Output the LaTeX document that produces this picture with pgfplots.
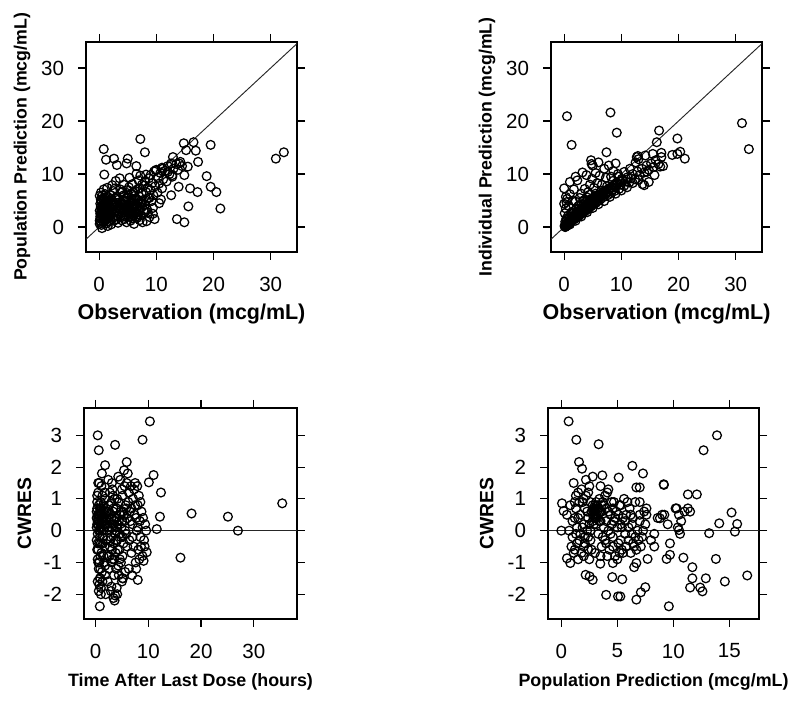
\documentclass[border=0pt]{standalone}
\usepackage{pgfplots}
\pgfplotsset{compat=1.18}
\usepackage{fontspec}
\setmainfont{Liberation Sans}

% 1 px of the reference = 0.75pt
\pgfplotsset{
  diag/.style={
    scale only axis,
    anchor=south west,
    axis line style={line width=0.9pt},
    tick align=outside,
    major tick length=6pt,
    every tick/.style={black, line width=0.9pt},
    tick label style={font=\fontsize{15.4}{16}\selectfont},
    xticklabel style={yshift=-9pt},
    yticklabel style={xshift=-7pt},
    /pgf/number format/assume math mode=true,
    clip=true,
  },
  pts/.style={only marks, mark=o, mark size=3.3pt, black, mark options={line width=0.95pt}},
  refl/.style={no marks, black!85, line width=0.7pt},
}

\begin{document}
\begin{tikzpicture}
\path[use as bounding box, fill=white] (0,0) rectangle (600pt,527.25pt);

% ---------------- top left: PRED vs DV
\begin{axis}[diag,
  at={(64.5pt,338.25pt)}, width=158.25pt, height=157.5pt,
  xmin=-2.3, xmax=34.6, ymin=-4.7, ymax=34.9,
  xtick={0,10,20,30}, ytick={0,10,20,30},
  xlabel={Observation (mcg/mL)},
  ylabel={Population Prediction (mcg/mL)},
  xlabel style={at={(axis description cs:0.5,-0.295)}, anchor=center, font=\bfseries\fontsize{16.1}{17}\selectfont},
  ylabel style={at={(axis description cs:-0.303,0.5)}, anchor=center, font=\bfseries\fontsize{13.3}{14}\selectfont},
]
\addplot[refl] coordinates {(-10,-10) (40,40)};
\addplot[pts] coordinates {
(0.1,1.2)(0.2,2.5)(0.3,3.8)(0.1,5.9)(0.4,0.4)(0.5,1.8)(0.6,3.1)(0.2,4.4)(0.7,2.2)(0.8,0.9)
(0.3,6.5)(0.9,4.9)(1.0,2.8)(1.1,1.5)(0.4,3.3)(1.2,3.6)(1.3,0.7)(0.6,5.3)(1.4,4.2)(1.5,2.1)
(0.8,7.1)(1.6,5.6)(1.7,1.1)(1.8,3.0)(0.5,-0.2)(1.9,4.6)(2.0,2.4)(0.9,3.9)(1.1,6.2)(2.1,0.5)
(0.2,2.0)(1.3,2.6)(1.6,3.4)(0.7,1.0)(2.2,5.1)(2.3,3.3)(1.0,4.1)(1.4,7.4)(0.3,0.8)(2.4,1.7)
(2.5,6.8)(1.2,5.0)(0.1,3.1)(1.9,2.0)(2.6,4.0)(0.6,2.7)(1.5,0.2)(2.0,6.0)(2.7,2.9)(0.4,4.9)
(3.0,1.5)(3.2,3.8)(3.4,5.2)(3.5,2.6)(3.7,7.1)(3.9,4.3)(4.0,1.9)(4.2,3.1)(4.3,6.0)(4.5,2.4)
(4.6,4.8)(4.8,0.9)(4.9,3.5)(5.0,5.6)(5.1,2.0)(5.2,7.5)(5.3,4.1)(5.4,2.9)(5.5,1.2)(5.6,6.3)
(5.7,3.6)(5.8,5.0)(5.9,2.3)(6.0,4.5)(6.1,0.6)(6.2,3.2)(6.3,6.8)(6.4,2.7)(6.5,5.3)(6.6,1.7)
(6.7,4.0)(6.8,7.2)(6.9,3.0)(7.0,5.8)(7.1,1.3)(7.2,4.6)(7.3,2.2)(7.4,6.4)(7.5,3.8)(7.6,0.9)
(7.7,5.1)(7.8,7.8)(7.9,2.8)(8.0,4.2)(8.2,6.6)(8.4,3.3)(8.6,5.5)(8.8,1.9)(9.0,7.0)(9.2,4.9)
(9.4,2.5)(3.3,0.8)(3.8,6.5)(4.4,5.1)(4.1,2.7)(2.9,4.6)(3.6,3.3)(5.5,4.8)(6.0,3.7)(4.7,3.9)
(5.2,2.6)(6.5,3.5)(4.0,4.4)(3.1,2.2)(5.8,1.6)(7.0,3.4)(4.9,6.4)(2.8,7.3)(6.2,5.9)(3.5,4.0)
(0.2,1.6)(0.4,2.9)(0.6,4.1)(0.8,1.4)(1.0,3.3)(1.2,2.1)(1.4,5.3)(1.6,2.5)(1.8,4.0)(2.0,1.3)
(0.3,5.2)(0.5,2.3)(0.7,3.6)(0.9,2.0)(1.1,4.6)(1.3,3.0)(1.5,1.6)(1.7,4.9)(1.9,3.6)(2.2,2.8)
(2.4,4.4)(2.6,1.2)(0.1,0.6)(0.6,6.0)(1.0,5.5)(2.8,5.5)(3.0,3.2)(3.3,2.0)(3.6,4.7)(3.9,1.3)
(4.2,4.3)(4.5,3.2)(4.8,5.4)(5.1,3.0)(5.4,4.5)(5.7,2.5)(6.0,5.2)(6.3,1.9)(6.6,3.8)(6.9,5.1)
(4.0,3.6)(4.6,2.0)(5.3,3.4)(5.9,4.1)(3.4,3.6)(4.4,1.5)(5.0,4.0)(5.6,1.9)(6.2,4.3)(6.8,2.4)
(7.4,4.5)(7.8,3.2)(8.2,5.0)(8.5,2.8)(3.1,5.8)(4.1,6.7)(5.0,7.0)(6.0,6.6)(7.1,7.3)(2.3,7.9)
(7.5,8.0)(8.0,8.6)(8.5,7.4)(8.7,9.2)(9.0,9.8)(9.3,8.3)(9.6,10.5)(9.8,7.7)(10.0,10.8)(10.3,9.3)
(10.5,8.2)(10.7,10.2)(11.0,11.2)(11.2,9.0)(11.5,10.6)(11.8,8.6)(12.0,11.5)(12.3,10.0)(12.6,12.0)(12.8,9.5)
(13.0,11.0)(13.5,11.9)(13.8,10.8)(14.2,12.3)(14.5,11.5)(10.2,6.5)(11.0,7.3)(9.5,6.0)(8.8,5.5)(10.8,5.2)
(9.7,1.5)(8.3,1.1)(7.2,9.7)(8.2,9.9)(6.9,8.8)(6.5,10.0)(5.8,8.1)(5.3,9.3)(4.3,8.0)(3.6,9.2)
(2.9,8.7)(9.4,3.6)(10.5,4.5)
(7.2,16.6)(0.8,14.7)(8.0,14.1)(14.8,15.8)(16.5,16.0)(19.5,15.5)(15.2,14.5)(16.9,14.4)(30.9,12.9)(32.3,14.1)
(17.3,12.3)(1.2,12.7)(2.6,12.9)(3.1,11.7)(5.0,12.9)(4.8,12.0)(6.5,11.5)(0.9,9.9)(18.8,9.6)(19.5,7.6)
(20.5,6.6)(15.9,7.3)(17.2,6.6)(21.2,3.5)(15.6,3.9)(13.6,1.5)(14.9,0.9)(13.9,7.6)(12.6,6.0)(12.9,13.2)
(11.1,11.0)(9.9,10.7)(12.0,10.4)(12.8,9.8)(14.9,9.8)(15.5,11.4)(14.0,12.0)
};
\end{axis}

% ---------------- top right: IPRED vs DV
\begin{axis}[diag,
  at={(413.25pt,338.25pt)}, width=158.25pt, height=157.5pt,
  xmin=-2.3, xmax=34.6, ymin=-4.7, ymax=34.9,
  xtick={0,10,20,30}, ytick={0,10,20,30},
  xlabel={Observation (mcg/mL)},
  ylabel={Individual Prediction (mcg/mL)},
  xlabel style={at={(axis description cs:0.5,-0.295)}, anchor=center, font=\bfseries\fontsize{16.1}{17}\selectfont},
  ylabel style={at={(axis description cs:-0.303,0.5)}, anchor=center, font=\bfseries\fontsize{13.3}{14}\selectfont},
]
\addplot[refl] coordinates {(-10,-10) (40,40)};
\addplot[pts] coordinates {
(0.1,0.1)(0.2,0.4)(0.3,0.2)(0.4,0.7)(0.5,0.3)(0.6,0.9)(0.2,0.0)(0.8,0.6)(0.9,1.1)(1.0,0.8)
(1.1,1.3)(1.2,1.0)(1.3,1.6)(1.4,1.2)(1.5,1.8)(1.6,1.4)(1.7,2.1)(1.8,1.5)(1.9,2.3)(2.0,1.7)
(2.1,2.0)(2.2,2.6)(2.3,1.9)(2.4,2.4)(2.5,2.9)(2.6,2.1)(2.7,2.6)(2.8,3.2)(2.9,2.4)(3.0,2.8)
(3.1,3.4)(3.2,2.6)(3.3,3.0)(3.4,3.7)(3.5,2.9)(3.6,3.3)(3.7,4.0)(3.8,3.1)(3.9,3.6)(4.0,4.3)
(4.1,3.4)(4.2,3.9)(4.3,4.6)(4.4,3.6)(4.5,4.1)(4.6,4.9)(4.7,3.9)(4.8,4.4)(4.9,5.1)(5.0,4.2)
(5.1,4.7)(5.2,5.4)(5.3,4.4)(5.4,5.0)(5.5,5.7)(5.6,4.6)(5.7,5.2)(5.8,6.0)(5.9,4.9)(6.0,5.5)
(6.2,6.2)(6.4,5.3)(6.6,5.9)(6.8,6.6)(7.0,5.7)(7.2,6.3)(7.4,7.0)(7.6,6.0)(7.8,6.7)(8.0,7.4)
(8.2,6.4)(8.4,7.0)(8.6,7.8)(8.8,6.8)(9.0,7.5)(9.3,8.1)(9.6,7.2)(9.9,8.0)(10.2,8.8)(10.5,7.8)
(10.8,8.6)(11.1,9.4)(11.4,8.4)(11.7,9.2)(12.0,10.0)(12.4,9.0)(12.8,10.5)(13.2,9.8)(13.6,11.0)(14.0,10.3)
(14.4,11.6)(14.8,10.8)(15.2,12.0)(15.6,11.3)(16.0,12.6)(16.5,11.9)(17.0,13.2)(13.0,12.8)(12.5,12.2)(14.2,13.5)
(15.5,13.8)(16.2,16.0)(17.0,14.0)(16.8,11.4)(15.8,9.8)(14.0,7.9)(12.9,13.4)(11.5,11.0)(10.5,10.4)(9.5,9.5)
(8.5,8.7)(7.5,7.7)(6.5,6.8)(5.5,6.3)(4.5,5.2)(3.5,4.5)(2.5,3.4)(1.5,2.5)(0.5,1.4)
(0.1,0.3)(0.3,0.5)(0.4,0.2)(0.6,0.6)(0.7,0.4)(0.9,0.8)(1.1,0.9)(1.2,1.3)(1.4,1.5)(1.6,1.7)
(1.8,1.9)(2.0,2.1)(2.2,2.2)(2.4,2.7)(2.6,2.5)(2.8,2.8)(3.0,3.1)(3.2,3.3)(3.4,3.2)(3.6,3.7)
(3.8,3.6)(4.0,3.9)(4.2,4.3)(4.4,4.1)(4.6,4.5)(4.8,4.8)(5.0,4.7)(5.2,5.0)(5.4,5.3)(5.6,5.2)
(5.8,5.6)(6.0,6.0)(6.3,5.7)(6.7,6.2)(7.1,6.8)(7.5,6.5)(7.9,7.1)(8.3,7.5)(8.8,7.9)(9.2,8.4)
(9.7,8.6)(10.1,9.1)(0.2,1.0)(0.4,1.6)(0.7,2.2)(1.0,1.9)(1.3,2.8)(1.7,3.0)(2.1,3.5)(2.5,4.0)
(3.0,4.2)(3.5,5.1)(4.0,5.6)(4.5,6.1)(0.1,2.6)(0.4,4.7)
(0.3,3.5)(0.5,5.3)(0.8,4.0)(1.0,6.2)(1.5,5.0)(2.0,4.8)(2.3,8.8)(2.7,5.5)(3.0,6.3)(3.3,4.9)
(3.6,7.2)(3.9,9.8)(4.2,6.6)(4.5,8.0)(4.9,9.1)(5.2,7.4)(5.5,10.2)(5.8,8.3)(6.2,9.7)(6.6,8.0)
(7.0,11.0)(7.3,9.3)(7.8,11.6)(8.2,9.5)(8.6,10.6)(9.0,12.0)(9.4,10.0)(6.0,12.2)(5.0,11.6)(2.0,9.5)
(1.7,7.1)(1.0,0.5)(2.0,1.2)(3.0,2.0)(4.0,2.8)(5.0,3.6)(6.0,4.3)(7.0,4.9)(8.0,5.7)(9.0,6.3)
(10.0,6.9)(11.0,7.5)(12.0,8.3)(13.0,8.9)
(0.5,20.9)(8.1,21.6)(9.2,17.8)(1.3,15.5)(31.1,19.6)(32.3,14.7)(16.6,18.2)(19.8,16.7)(7.4,14.1)(18.9,13.6)
(20.3,14.2)(21.1,12.9)(19.8,13.8)(17.3,11.5)(4.7,12.6)(4.8,11.9)(3.2,10.3)(1.0,8.5)(0.0,7.3)(0.3,5.7)
(0.0,4.4)(13.7,8.1)(14.8,8.5)(14.5,10.4)(12.7,13.2)
};
\end{axis}

% ---------------- bottom left: CWRES vs TAD
\begin{axis}[diag,
  at={(63pt,63pt)}, width=159.75pt, height=158.25pt,
  xmin=-2.2, xmax=38.2, ymin=-2.78, ymax=3.86,
  xtick={0,10,20,30}, ytick={-2,-1,0,1,2,3},
  xlabel={Time After Last Dose (hours)},
  ylabel={CWRES},
  xlabel style={at={(axis description cs:0.5,-0.3)}, anchor=center, font=\bfseries\fontsize{13.4}{14}\selectfont},
  ylabel style={at={(axis description cs:-0.28,0.5)}, anchor=center, font=\bfseries\fontsize{14.5}{15}\selectfont},
]
\addplot[refl] coordinates {(-10,0) (50,0)};
\addplot[pts] coordinates {
(0.2,0.6)(0.3,0.2)(0.4,-0.1)(0.5,0.5)(0.3,0.9)(0.6,0.3)(0.7,-0.4)(0.8,0.7)(0.2,-0.3)(0.9,0.1)
(1.0,0.5)(1.1,-0.7)(0.5,1.2)(1.2,0.3)(1.3,-0.2)(0.4,-0.9)(1.4,0.8)(1.5,0.0)(0.6,-1.2)(1.6,0.4)
(1.7,-0.5)(0.8,-1.5)(1.8,1.0)(0.3,0.4)(1.9,0.2)(0.7,1.5)(2.0,-0.3)(1.0,-1.8)(1.1,1.4)(1.2,-1.3)
(0.9,-0.8)(1.5,0.6)(1.3,-1.6)(0.5,-0.6)(1.6,-1.0)(0.6,-1.9)(1.7,1.2)(2.1,0.6)(1.4,-0.4)(1.0,0.9)
(0.8,0.0)(0.4,0.3)(2.2,-0.8)(1.8,-1.4)(1.9,-2.0)(0.7,-1.0)(2.3,0.1)(0.9,-1.5)(1.1,0.2)
(0.2,0.4)(0.3,0.7)(0.4,0.5)(0.5,0.2)(0.6,0.8)(0.7,0.5)(0.8,0.3)(0.9,0.6)(1.0,0.2)(1.1,0.7)
(1.2,0.5)(1.3,0.4)(1.4,0.2)(0.2,0.1)(0.4,-0.4)(0.6,0.0)(0.8,-0.2)(1.0,-0.4)(1.2,0.0)(1.5,0.3)
(1.6,0.7)(1.8,0.5)(2.0,0.4)(2.2,0.2)(2.4,0.6)(0.3,-0.6)(0.5,-1.0)(0.9,-1.2)(0.4,-1.6)(0.7,-1.7)
(0.3,1.1)(0.5,1.5)(1.3,1.1)(2.6,0.0)(2.8,-0.3)(3.0,0.4)(3.2,0.2)(3.4,0.7)(3.6,0.4)(3.8,-0.3)
(4.0,0.1)(4.2,-0.6)(4.4,0.3)(4.6,-0.1)(4.8,0.6)(5.0,0.3)(5.2,-0.2)(5.4,0.5)(5.6,0.0)(5.8,0.7)
(6.0,-0.5)(3.1,-0.6)(3.5,-0.9)(3.9,-1.2)(4.4,-1.4)(4.8,-1.0)(2.6,-0.8)(6.6,0.3)(7.0,-0.2)(7.5,0.8)
(8.0,0.1)(8.5,0.9)(6.8,0.7)(7.7,0.4)(8.6,-0.5)(3.2,1.3)(4.1,1.0)(5.1,1.1)(6.3,1.2)(7.9,1.4)
(2.4,1.6)(1.2,1.8)(1.5,-0.8)(1.8,-1.1)(2.3,-1.6)(1.0,-2.0)
(2.5,0.8)(2.6,0.3)(2.7,-0.5)(2.8,0.5)(2.9,-0.2)(3.0,0.9)(3.1,0.1)(3.2,-0.9)(3.3,0.6)(3.4,-0.4)
(3.5,0.3)(3.6,1.0)(3.7,-0.1)(3.8,-0.7)(3.9,0.4)(4.0,0.7)(4.1,-0.3)(4.2,0.2)(4.3,-1.1)(4.4,0.9)
(4.5,-0.6)(4.6,0.5)(4.7,1.6)(4.8,-0.2)(4.9,0.1)(5.0,1.3)(5.1,-0.8)(5.2,0.6)(5.3,-0.4)(5.4,1.9)
(5.5,0.3)(5.6,-1.3)(5.7,0.8)(5.8,-0.1)(5.9,1.5)(6.0,0.4)(2.5,-1.2)(3.0,-1.0)(3.5,-1.4)(4.0,-1.8)
(2.7,1.2)(3.3,1.1)(4.3,1.7)(3.8,0.0)(4.6,-0.9)(5.0,-1.6)(5.5,1.4)(2.9,-1.9)(3.6,-2.2)(4.1,-2.0)
(5.2,-1.5)(3.1,1.5)
(6.2,0.9)(6.4,-0.3)(6.5,0.6)(6.7,1.4)(6.8,-0.7)(7.0,0.2)(7.1,1.0)(7.2,-0.5)(7.4,0.5)(7.5,1.5)
(7.6,-1.0)(7.8,0.0)(8.0,0.8)(8.1,-0.6)(8.2,1.1)(8.4,0.3)(8.5,-0.2)(8.7,0.6)(8.9,-0.8)(9.0,0.4)
(9.2,-0.3)(9.4,0.2)(9.6,0.0)(6.3,-1.2)(6.9,-1.4)(7.7,-1.2)(8.3,-0.9)(9.3,-0.5)(6.1,1.8)(7.3,1.3)
(10.3,3.44)(0.4,3.0)(0.6,2.53)(3.7,2.7)(8.9,2.86)(1.8,2.06)(5.9,2.16)(11.0,1.75)(10.1,1.52)(12.4,1.2)
(35.4,0.86)(18.2,0.54)(25.1,0.44)(27.0,0.0)(16.1,-0.85)(12.2,0.44)(11.6,0.05)(0.8,-2.38)(3.4,-2.12)(3.7,-2.04)
(3.0,-1.76)(8.0,-1.55)(5.1,-1.5)(9.1,-0.95)(9.7,-0.68)
};
\end{axis}

% ---------------- bottom right: CWRES vs PRED
\begin{axis}[diag,
  at={(411pt,63pt)}, width=158.25pt, height=158.25pt,
  xmin=-1.19, xmax=17.65, ymin=-2.78, ymax=3.86,
  xtick={0,5,10,15}, ytick={-2,-1,0,1,2,3},
  xlabel={Population Prediction (mcg/mL)},
  ylabel={CWRES},
  xlabel style={at={(axis description cs:0.5,-0.3)}, anchor=center, font=\bfseries\fontsize{13.4}{14}\selectfont},
  ylabel style={at={(axis description cs:-0.29,0.5)}, anchor=center, font=\bfseries\fontsize{14.5}{15}\selectfont},
]
\addplot[refl] coordinates {(-10,0) (50,0)};
\addplot[pts] coordinates {
(0.5,0.5)(0.7,0.0)(0.9,-0.5)(1.0,0.3)(1.1,1.5)(1.2,-0.6)(1.3,0.7)(1.4,0.1)(1.5,1.2)(1.6,-0.3)
(1.7,0.5)(1.8,-0.7)(1.9,0.9)(2.0,0.2)(2.1,-0.4)(2.2,1.1)(2.3,0.6)(2.4,-0.2)(2.5,1.4)(2.6,0.0)
(2.7,-0.6)(2.8,0.8)(2.9,0.4)(3.0,0.6)(3.0,0.5)(3.1,0.7)(3.1,0.4)(3.2,0.6)(3.2,0.8)(3.3,0.5)
(3.3,-0.1)(3.4,1.0)(3.5,0.3)(3.6,-0.5)(3.7,0.9)(3.8,0.1)(3.9,-0.3)(4.0,0.7)(4.1,1.2)(4.2,0.0)
(4.3,-0.6)(4.4,0.5)(4.5,0.9)(4.6,-0.2)(4.7,0.3)(4.8,-0.8)(4.9,0.6)(5.0,0.1)(5.1,-0.4)(5.2,0.8)
(5.3,0.2)(5.4,-0.6)(5.5,0.4)(5.6,1.0)(5.7,-0.1)(5.8,0.5)(6.0,-0.3)(6.1,0.7)(6.3,0.2)(6.5,-0.5)
(6.6,0.9)(6.8,0.0)(7.0,0.5)(7.2,-0.2)(7.4,0.6)(2.0,-0.8)(2.5,-0.9)(1.5,-0.9)(3.0,-0.7)(3.5,-0.8)
(4.0,-0.4)(2.2,1.6)(1.8,1.3)(2.8,1.7)(3.5,1.4)(4.2,1.3)(1.2,0.9)(2.6,0.9)(3.4,0.3)(2.9,0.6)
(3.6,0.6)(2.4,0.4)(3.1,0.2)(3.8,0.8)(4.4,-0.1)(5.0,-0.9)(5.5,-0.7)(6.2,-0.7)(6.7,-0.6)(7.0,0.3)
(5.9,0.9)(6.4,0.4)(1.0,-0.2)(0.8,0.8)(1.3,-0.1)(2.1,0.7)(4.7,0.9)(5.3,-0.3)(6.9,-0.3)(7.3,0.0)
(7.6,0.5)(8.0,-0.3)(8.6,0.4)(9.0,0.5)(9.5,0.2)(10.5,0.5)(10.7,0.3)(10.4,0.1)(10.6,-0.1)(11.0,0.6)
(11.3,0.7)(10.2,0.7)(8.3,-0.1)(9.2,0.5)
(2.8,0.5)(2.9,0.7)(3.0,0.4)(3.1,0.5)(3.2,0.4)(3.3,0.7)(3.4,0.6)(3.0,0.8)(2.8,0.3)(3.5,0.6)
(2.7,0.6)(3.6,0.8)(3.1,0.9)(2.9,0.2)(1.5,0.4)(1.7,-0.1)(1.9,0.1)(2.1,-0.2)(2.3,0.0)(2.5,0.2)
(1.6,0.9)(2.0,-0.5)(2.4,-0.6)(2.6,-0.3)(3.7,-0.2)(4.0,0.3)(4.2,0.6)(4.5,0.2)(4.8,0.4)(5.1,0.5)
(5.4,0.1)(5.7,0.3)(6.0,0.1)(6.3,-0.1)(6.6,-0.2)(4.6,-0.5)(5.2,-0.7)(5.8,-0.5)(6.4,-0.4)(4.1,-0.8)
(1.2,0.4)(1.4,-0.4)(1.1,-0.7)(1.3,1.1)(2.0,1.0)(2.4,1.2)(3.9,1.1)(4.6,0.7)(5.3,0.8)(6.2,0.5)
(7.0,0.9)(7.5,0.2)(7.1,-0.5)(7.6,0.7)
(0.65,3.44)(1.34,2.86)(3.33,2.72)(13.9,3.0)(12.7,2.53)(1.58,2.16)(1.85,1.95)(6.34,2.04)(7.29,1.8)(3.66,1.74)
(5.12,1.67)(6.7,1.36)(7.0,1.36)(9.14,1.46)(9.16,1.44)(11.3,1.14)(12.1,1.14)(15.2,0.57)(14.1,0.23)(15.7,0.21)
(15.5,-0.03)(13.2,-0.08)(16.6,-1.41)(14.6,-1.6)(13.8,-0.89)(9.6,-2.38)(10.9,-0.85)(11.7,-1.15)(11.7,-1.5)(12.9,-1.5)
(11.5,-1.79)(12.4,-1.79)(12.6,-1.91)(9.7,-0.4)(9.7,-0.76)(9.4,-0.89)(8.3,-0.5)(7.7,-0.89)(4.0,-2.02)(5.06,-2.07)
(5.27,-2.07)(6.7,-2.17)(7.1,-1.94)(7.5,-1.78)(3.48,-1.04)(2.17,-1.39)(2.53,-1.44)(2.8,-1.55)(4.55,-1.46)(5.44,-1.53)
(4.6,-1.02)(6.5,-1.15)(6.7,-1.02)(0.5,-0.87)(0.8,-1.02)(0.2,0.62)(0.0,0.0)(0.06,0.86)(8.8,0.39)(10.3,0.7)
(10.5,0.02)(11.5,0.6)
};
\end{axis}
\end{tikzpicture}
\end{document}
